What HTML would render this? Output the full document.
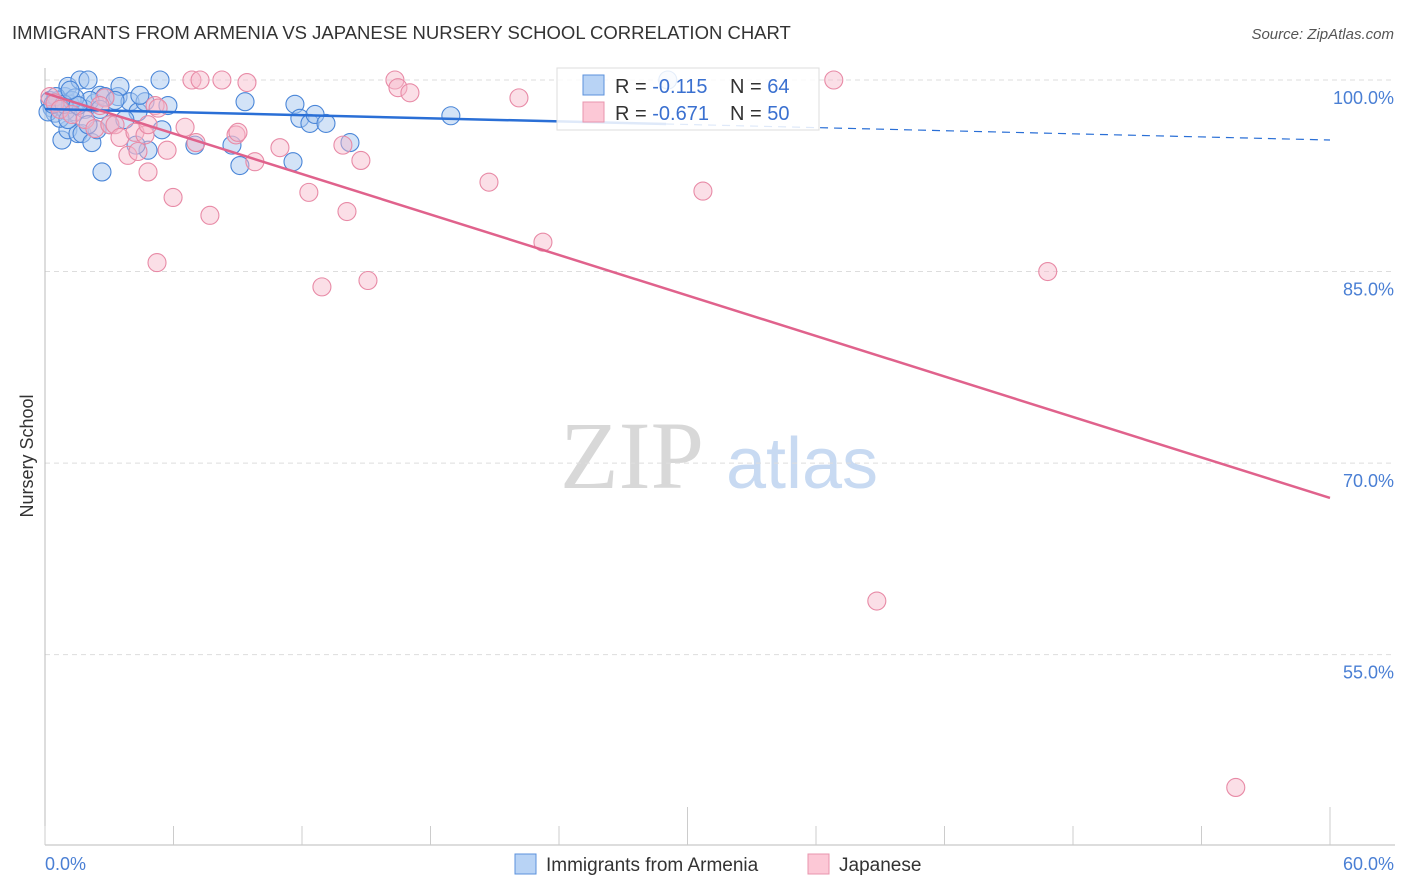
<!DOCTYPE html>
<html><head><meta charset="utf-8"><style>
body{margin:0;background:#fff;font-family:"Liberation Sans",sans-serif;}
svg{display:block}
</style></head><body>
<svg width="1406" height="892" xmlns="http://www.w3.org/2000/svg" font-family="Liberation Sans, sans-serif">
<text x="12" y="39" font-size="18.5" fill="#333">IMMIGRANTS FROM ARMENIA VS JAPANESE NURSERY SCHOOL CORRELATION CHART</text>
<text x="1394" y="39" font-size="15" fill="#555" text-anchor="end" font-style="italic">Source: ZipAtlas.com</text>
<g>
<text x="632" y="488" font-size="96" font-family="Liberation Serif, serif" fill="#d8d8d8" text-anchor="middle">ZIP</text>
<text x="802" y="488" font-size="72" fill="#c8daf2" text-anchor="middle">atlas</text>
</g>
<g id="grid"></g>
<g id="axes"></g>
<g id="pts"></g>
<g id="trend"></g>
<text transform="translate(33,456) rotate(-90)" font-size="18" fill="#333" text-anchor="middle">Nursery School</text>
<text x="45" y="870" font-size="18" fill="#4a7fd4">0.0%</text>
<text x="1394" y="870" font-size="18" fill="#4a7fd4" text-anchor="end">60.0%</text>
<g>
<rect x="557" y="68" width="262" height="62" fill="#fff" fill-opacity="0.85" stroke="#ddd"/>
<rect x="583" y="75" width="21" height="20" fill="#b8d3f5" stroke="#5b92dc"/>
<rect x="583" y="102" width="21" height="20" fill="#fcc8d6" stroke="#e895ad"/>
<text x="615" y="93" font-size="20" fill="#333">R = <tspan fill="#3a70d0"> -0.115</tspan><tspan x="730">N = </tspan><tspan fill="#3a70d0">64</tspan></text>
<text x="615" y="120" font-size="20" fill="#333">R = <tspan fill="#3a70d0">-0.671</tspan><tspan x="730">N = </tspan><tspan fill="#3a70d0">50</tspan></text>
</g>
<g>
<rect x="515" y="854" width="21" height="20" fill="#b8d3f5" stroke="#5b92dc"/>
<text x="546" y="871" font-size="19" fill="#333">Immigrants from Armenia</text>
<rect x="808" y="854" width="21" height="20" fill="#fcc8d6" stroke="#e895ad"/>
<text x="839" y="871" font-size="19" fill="#333">Japanese</text>
</g>
</svg>
<script>
const yTicks=[100,85,70,55];
const yTickLabels=["100.0%","85.0%","70.0%","55.0%"];
const xTicks=[0,6,12,18,24,30,36,42,48,54,60];
const blueX=[0.70,0.93,1.07,1.40,1.63,2.01,2.33,2.57,2.80,0.79,1.07,1.54,1.73,2.19,2.43,2.66,3.03,3.41,3.50,3.97,4.34,4.67,4.81,5.37,5.46,5.74,4.25,7.00,8.73,9.10,9.34,11.67,11.90,12.37,12.61,13.12,11.58,14.24,18.95,29.08,0.23,0.33,0.47,0.61,0.79,0.98,1.17,1.26,0.14,0.51,1.87,2.10,0.70,1.07,1.40,0.37,0.89,1.54,2.57,3.73,2.01,3.27,1.17,4.43];
const blueY=[98.2,98.7,99.5,97.5,100,100,98.2,98.8,98.7,95.3,96.1,95.8,95.8,95.1,96.1,92.8,96.5,98.7,99.5,98.3,97.5,98.3,94.5,100,96.1,98.0,94.9,94.9,94.9,93.3,98.3,98.1,97.0,96.6,97.3,96.6,93.6,95.1,97.2,100,98.4,97.8,97.4,98.4,97.9,97.6,98.1,98.4,97.5,98.7,97.7,98.4,97.0,96.9,98.6,98.1,98.1,98.0,97.7,96.9,96.5,98.4,99.2,98.8];
const pinkX=[0.23,0.47,0.70,1.26,1.87,2.33,2.80,3.03,3.27,3.50,3.87,4.20,4.34,4.67,4.81,5.14,4.81,5.28,5.70,5.98,5.23,6.54,6.86,7.24,7.70,7.05,8.26,8.92,9.01,9.43,9.80,10.97,12.32,12.93,13.91,14.10,14.75,15.08,16.34,16.48,17.04,20.73,22.13,23.25,30.72,36.83,46.82,38.84,55.60,2.57];
const pinkY=[98.7,98.2,97.7,97.3,96.9,96.2,98.6,96.5,96.5,95.5,94.1,95.9,94.4,95.7,96.5,98.0,92.8,97.8,94.5,90.8,85.7,96.3,100,100,89.4,95.1,100,95.7,95.9,99.8,93.6,94.7,91.2,83.8,94.9,89.7,93.7,84.3,100,99.4,99.0,92.0,98.6,87.3,91.3,100,85.0,59.2,44.6,98.0];
const blueTrend=[97.73,95.30];
const pinkTrend=[98.98,67.27];
const NS="http://www.w3.org/2000/svg";
const X=v=>45+v*(1285/60);
const Y=v=>80+(100-v)*12.77;
function mk(t,a,p){const e=document.createElementNS(NS,t);for(const k in a)e.setAttribute(k,a[k]);p.appendChild(e);return e;}
const grid=document.getElementById('grid'),axes=document.getElementById('axes'),pts=document.getElementById('pts'),trend=document.getElementById('trend');
yTicks.forEach((t,i)=>{
 const l=mk('line',{x1:45,x2:1395,y1:Y(t),y2:Y(t),stroke:'#ddd','stroke-dasharray':'5,4'},grid);
 
 
 const tx=mk('text',{x:1394,y:Y(t)+24,'font-size':18,fill:'#4a7fd4','text-anchor':'end'},grid);
 tx.textContent=yTickLabels[i];
 
 
});
mk('line',{x1:45,x2:45,y1:68,y2:845,stroke:'#bbb'},axes);
mk('line',{x1:45,x2:1395,y1:845,y2:845,stroke:'#bbb'},axes);
xTicks.forEach((t,i)=>{
 const tall=(i===5||i===10);
 const l=mk('line',{x1:X(t),x2:X(t),y1:tall?807:826,y2:845,stroke:'#ccc'},axes);
 
 
});
blueX.forEach((x,i)=>{
 const c=mk('circle',{cx:X(x),cy:Y(blueY[i]),r:9,fill:'#a8c8f0','fill-opacity':0.5,stroke:'#4a86d8','stroke-width':1.1},pts);
 
 
});
pinkX.forEach((x,i)=>{
 const c=mk('circle',{cx:X(x),cy:Y(pinkY[i]),r:9,fill:'#f7b8ca','fill-opacity':0.45,stroke:'#e88aa6','stroke-width':1.1},pts);
 
 
});
const bAt=x=>blueTrend[0]+(blueTrend[1]-blueTrend[0])*x/60;
let b1=mk('line',{x1:X(0),y1:Y(bAt(0)),x2:X(29),y2:Y(bAt(29)),stroke:'#2a6fd6','stroke-width':2.5},trend);


let b2=mk('line',{x1:X(29),y1:Y(bAt(29)),x2:X(60),y2:Y(bAt(60)),stroke:'#2a6fd6','stroke-width':1.2,'stroke-dasharray':'8,6'},trend);


let p1=mk('line',{x1:X(0),y1:Y(pinkTrend[0]),x2:X(60),y2:Y(pinkTrend[1]),stroke:'#e0628c','stroke-width':2.5},trend);


</script>
</body></html>
